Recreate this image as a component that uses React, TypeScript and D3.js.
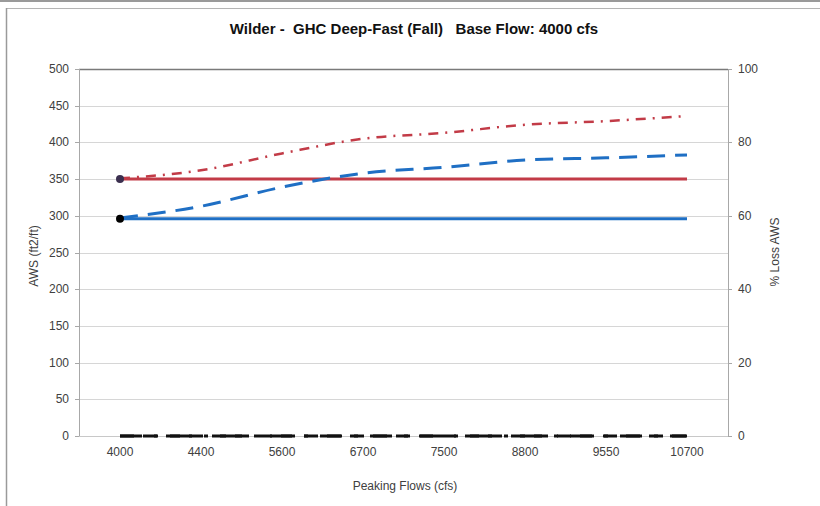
import React from "react";
import * as d3 from "d3";

const categories = ["4000", "4400", "5600", "6700", "7500", "8800", "9550", "10700"];
const leftTicks = [0, 50, 100, 150, 200, 250, 300, 350, 400, 450, 500];
const rightTicks = [0, 20, 40, 60, 80, 100];

// AWS series (left axis)
const awsBaseRed = [350, 350, 350, 350, 350, 350, 350, 350];
const awsBaseBlue = [296, 296, 296, 296, 296, 296, 296, 296];
const awsPeakBlue = [297, 313, 339, 358, 366, 376, 379, 383];
const awsPeakRed = [351, 362, 385, 405, 413, 424, 429, 436];
// % Loss series (right axis)
const lossA = [0, 0, 0, 0, 0, 0, 0, 0];
const lossB = [0, 0, 0, 0, 0, 0, 0, 0];

const W = 820;
const H = 506;
const left = 79;
const right = 728;
const top = 69;
const bottom = 436;
const font = "'Liberation Sans', Arial, sans-serif";

export default function App() {
  const x = d3.scalePoint<string>().domain(categories).range([120, 687]);
  const y = d3.scaleLinear().domain([0, 500]).range([bottom, top]);
  const yR = d3.scaleLinear().domain([0, 100]).range([bottom, top]);

  const mk = (vals: number[], sc: d3.ScaleLinear<number, number>, curve = d3.curveLinear) =>
    d3
      .line<number>()
      .x((_, i) => x(categories[i]) as number)
      .y((v) => sc(v))
      .curve(curve)(vals) as string;

  const blue = "#1f6fc4";
  const red = "#c23b47";
  const txt = "#404040";

  return (
    <svg
      width={W}
      height={H}
      style={{ position: "absolute", left: 0, top: 0, background: "#fff" }}
      fontFamily={font}
    >
      <rect x={0} y={0} width={W} height={H} fill="#fff" />
      {/* frame */}
      <line x1={0} x2={W} y1={1} y2={1} stroke="#9a9a9a" strokeWidth={2} />
      <line x1={6} x2={W} y1={8.5} y2={8.5} stroke="#b5b5b5" strokeWidth={1} />
      <line x1={6.5} x2={6.5} y1={8} y2={H} stroke="#9a9a9a" strokeWidth={1.5} />

      {/* title */}
      <text x={414} y={34} textAnchor="middle" fontSize={15} fontWeight="bold" fill="#111" style={{ whiteSpace: "pre" }}>
        {"Wilder -  GHC Deep-Fast (Fall)   Base Flow: 4000 cfs"}
      </text>

      {/* gridlines */}
      {leftTicks.map((t) => (
        <line
          key={"g" + t}
          x1={left}
          x2={right}
          y1={Math.round(y(t)) + 0.5}
          y2={Math.round(y(t)) + 0.5}
          stroke={t === 500 ? "#7a7a7a" : "#d6d6d6"}
          strokeWidth={t === 500 ? 1.5 : 1}
        />
      ))}

      {/* axes */}
      <line x1={left + 0.5} x2={left + 0.5} y1={top} y2={bottom} stroke="#a8a8a8" />
      <line x1={right + 0.5} x2={right + 0.5} y1={top} y2={bottom} stroke="#a8a8a8" />
      <line x1={left} x2={right} y1={bottom + 0.5} y2={bottom + 0.5} stroke="#c8c8c8" />

      {leftTicks.map((t) => (
        <g key={"l" + t}>
          <line x1={left - 4} x2={left} y1={Math.round(y(t)) + 0.5} y2={Math.round(y(t)) + 0.5} stroke="#a8a8a8" />
          <text x={69} y={y(t) + 4} textAnchor="end" fontSize={12} fill={txt}>
            {t}
          </text>
        </g>
      ))}
      {rightTicks.map((t) => (
        <g key={"r" + t}>
          <line x1={right} x2={right + 4} y1={Math.round(yR(t)) + 0.5} y2={Math.round(yR(t)) + 0.5} stroke="#a8a8a8" />
          <text x={738} y={yR(t) + 4} textAnchor="start" fontSize={12} fill={txt}>
            {t}
          </text>
        </g>
      ))}
      {categories.map((c) => (
        <text key={"c" + c} x={x(c)} y={456} textAnchor="middle" fontSize={12} fill={txt}>
          {c}
        </text>
      ))}

      {/* axis titles */}
      <text x={405} y={490} textAnchor="middle" fontSize={12} fill={txt}>
        Peaking Flows (cfs)
      </text>
      <text transform="translate(38,256) rotate(-90)" textAnchor="middle" fontSize={12} fill={txt}>
        AWS (ft2/ft)
      </text>
      <text transform="translate(779,252) rotate(-90)" textAnchor="middle" fontSize={12} fill={txt}>
        % Loss AWS
      </text>

      {/* series */}
      <path d={mk(awsBaseRed, y)} fill="none" stroke={red} strokeWidth={3} />
      <path d={mk(awsBaseBlue, y)} fill="none" stroke={blue} strokeWidth={3} />
      <path
        d={mk(awsPeakBlue, y, d3.curveMonotoneX)}
        fill="none"
        stroke={blue}
        strokeWidth={3}
        strokeDasharray="18,10"
      />
      <path
        d={mk(awsPeakRed, y, d3.curveMonotoneX)}
        fill="none"
        stroke={red}
        strokeWidth={2.5}
        strokeDasharray="10,7,2,7"
      />
      <path d={mk(lossA, yR)} fill="none" stroke="#111" strokeWidth={3} strokeDasharray="14,9" />
      <path d={mk(lossB, yR)} fill="none" stroke="#111" strokeWidth={3} strokeDasharray="22,12,4,12" />

      {/* start markers */}
      <circle cx={x(categories[0])} cy={y(awsBaseRed[0])} r={4} fill="#3b2f4f" />
      <circle cx={x(categories[0])} cy={y(awsBaseBlue[0])} r={4} fill="#000" />
    </svg>
  );
}
